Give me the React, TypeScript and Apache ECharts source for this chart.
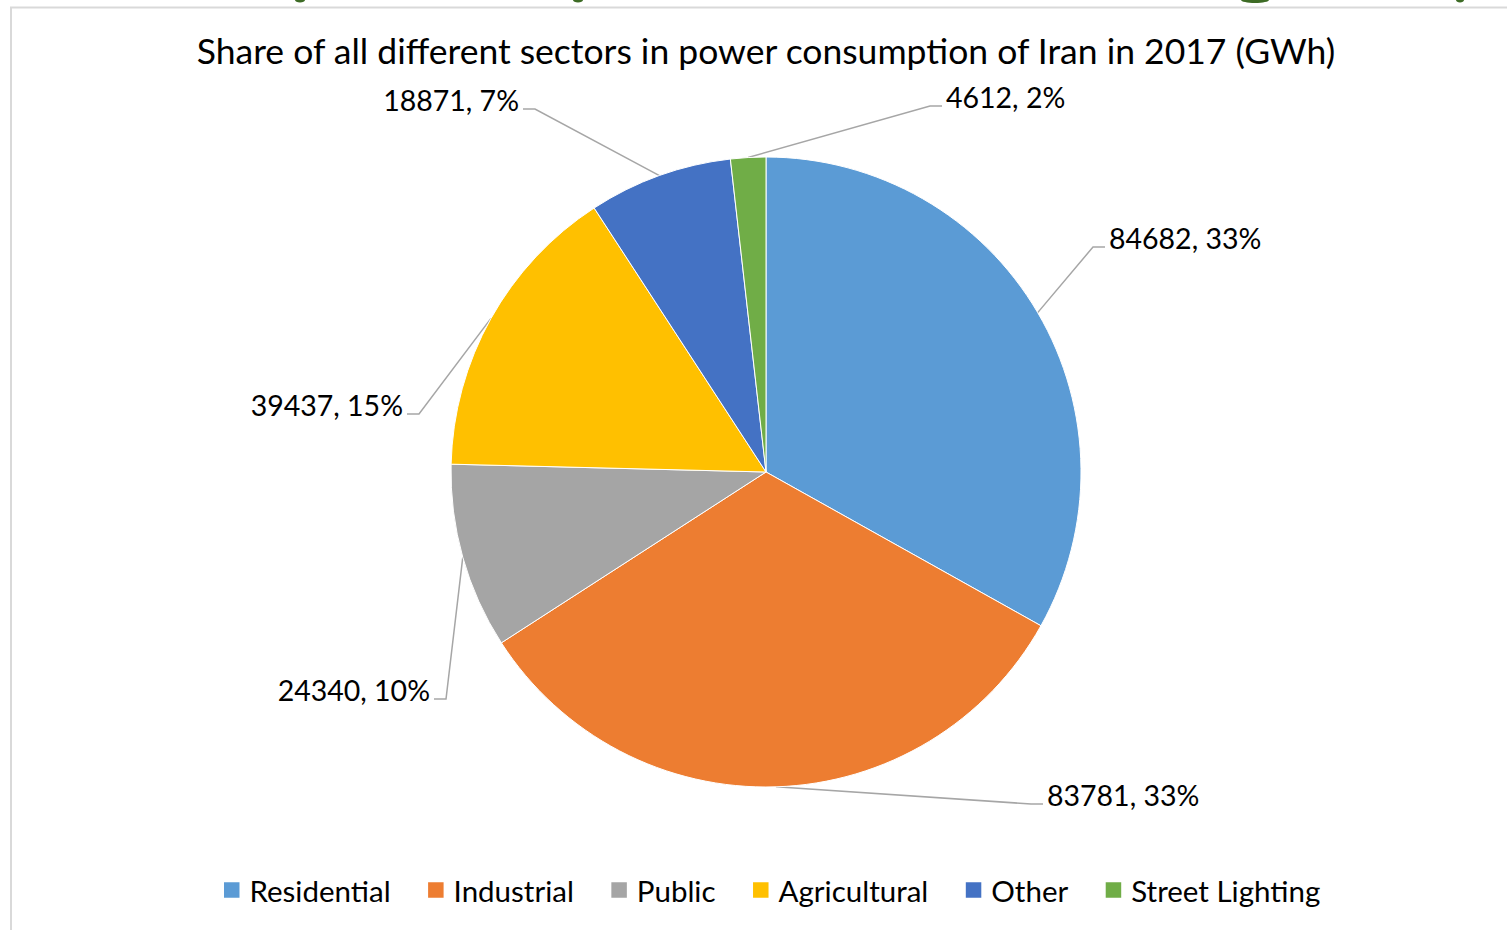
import React, { useEffect, useRef } from "react";
import * as echarts from "echarts";

const TITLE = "Share of all different sectors in power consumption of Iran in 2017 (GWh)";
const categories = ["Residential", "Industrial", "Public", "Agricultural", "Other", "Street Lighting"];
const values = [84682, 83781, 24340, 39437, 18871, 4612];
const colors = ["#5B9BD5", "#ED7D31", "#A5A5A5", "#FFC000", "#4472C4", "#70AD47"];

// label anchor positions (layout only): [x, y, side] side: 1 = label right of line, -1 = left
const LABEL_POS: [number, number, number][] = [
  [1109, 238, 1],
  [1047, 795, 1],
  [430, 690, -1],
  [403, 405, -1],
  [519, 100, -1],
  [946, 97, 1],
];

const CX = 766;
const CY = 472;
const R = 315;
const FONT = "Lato, 'Noto Sans', sans-serif";

export default function App() {
  const ref = useRef<HTMLDivElement>(null);
  useEffect(() => {
    if (!ref.current) return;
    const chart = echarts.init(ref.current, null, { renderer: "svg" });
    const total = values.reduce((a, b) => a + b, 0);
    const mids: number[][] = [];
    let cum = 0;
    values.forEach((v) => {
      const mid = ((cum + v / 2) / total) * Math.PI * 2;
      mids.push([CX + R * Math.sin(mid), CY - R * Math.cos(mid)]);
      cum += v;
    });
    chart.setOption({
      animation: false,
      backgroundColor: "#ffffff",
      color: colors,
      title: {
        text: TITLE,
        left: 761,
        top: 27,
        textAlign: "center",
        textStyle: { fontFamily: FONT, fontSize: 35.5, fontWeight: "normal", color: "#000" },
      },
      legend: {
        data: categories,
        left: 217,
        top: 870,
        itemWidth: 17.5,
        itemHeight: 17.5,
        itemGap: 35.5,
        icon: "rect",
        textStyle: { fontFamily: FONT, fontSize: 29.5, color: "#000", padding: [0, 0, 0, 4] },
      },
      graphic: [
        { type: "line", shape: { x1: 10, y1: 7.5, x2: 1507, y2: 7.5 }, style: { stroke: "#D9D9D9", lineWidth: 2 } },
        { type: "line", shape: { x1: 11, y1: 7, x2: 11, y2: 930 }, style: { stroke: "#D9D9D9", lineWidth: 2 } },
        { type: "ellipse", shape: { cx: 300, cy: 0, rx: 5, ry: 2.5 }, style: { fill: "#3D6B25" } },
        { type: "ellipse", shape: { cx: 578, cy: 0, rx: 5, ry: 2.5 }, style: { fill: "#3D6B25" } },
        { type: "ellipse", shape: { cx: 1255, cy: 0, rx: 14, ry: 3 }, style: { fill: "#3D6B25" } },
        { type: "ellipse", shape: { cx: 1460, cy: 0, rx: 4, ry: 2.5 }, style: { fill: "#3D6B25" } },
      ],
      series: [
        {
          type: "pie",
          center: [CX, CY],
          radius: R,
          startAngle: 90,
          clockwise: true,
          percentPrecision: 0,
          avoidLabelOverlap: false,
          itemStyle: { borderColor: "#ffffff", borderWidth: 1 },
          label: {
            show: true,
            position: "outside",
            formatter: "{c}, {d}%",
            fontFamily: FONT,
            fontSize: 28.5,
            color: "#000",
          },
          labelLine: { show: true, length: 20, length2: 10, lineStyle: { color: "#A6A6A6", width: 1.5 } },
          labelLayout: (params: any) => {
            const i = params.dataIndex;
            const [x, y, side] = LABEL_POS[i];
            const p0 = params.labelLinePoints && params.labelLinePoints[0] ? params.labelLinePoints[0] : mids[i];
            const ly = y + 9;
            const end = x - side * 4;
            const elbow = x - side * 16;
            return {
              x,
              y,
              align: side > 0 ? "left" : "right",
              verticalAlign: "middle",
              labelLinePoints: [p0, [elbow, ly], [end, ly]],
            };
          },
          data: categories.map((name, i) => ({ name, value: values[i] })),
        },
      ],
    });
    return () => chart.dispose();
  }, []);
  return (
    <div
      ref={ref}
      style={{ position: "fixed", left: 0, top: 0, width: 1507, height: 930 }}
    />
  );
}
